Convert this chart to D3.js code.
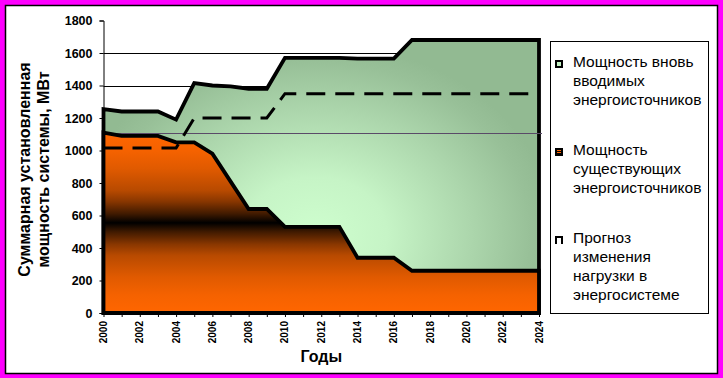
<!DOCTYPE html>
<html><head><meta charset="utf-8">
<script src="https://cdn.jsdelivr.net/npm/d3@7"></script>
<style>html,body{margin:0;padding:0;background:#ff00ff;}svg{display:block;}</style>
</head><body>
<script>
const years = d3.range(2000, 2025);
const existingPower = [1110,1090,1090,1090,1050,1050,980,810,640,640,530,530,530,530,340,340,340,260,260,260,260,260,260,260,260];
const totalPower   = [1255,1240,1240,1240,1190,1415,1400,1395,1380,1380,1570,1570,1570,1570,1565,1565,1565,1680,1680,1680,1680,1680,1680,1680,1680];
const loadForecast = [1015,1015,1015,1015,1015,1200,1200,1200,1200,1200,1350,1350,1350,1350,1350,1350,1350,1350,1350,1350,1350,1350,1350,1350,1350];
const yTicks = [0,200,400,600,800,1000,1200,1400,1600,1800];
const xLabelYears = d3.range(2000, 2025, 2);
const refLineValue = 1105;
const yTitle = ["Суммарная установленная", "мощность системы, МВт"];
const xTitle = "Годы";
const legendItems = [
  {key:"new", lines:["Мощность вновь","вводимых","энергоисточников"]},
  {key:"old", lines:["Мощность","существующих","энергоисточников"]},
  {key:"load", lines:["Прогноз","изменения","нагрузки в","энергосистеме"]}
];

const W = 723, H = 378;
const svg = d3.select("body").append("svg").attr("width", W).attr("height", H);
const FONT = "Arial, 'Liberation Sans', sans-serif";

// background & frame
svg.append("rect").attr("x",0).attr("y",0).attr("width",W).attr("height",H).attr("fill","#ff00ff");
svg.append("rect").attr("x",5.5).attr("y",5.5).attr("width",712).attr("height",368)
  .attr("fill","#ffffff").attr("stroke","#000").attr("stroke-width",1.5);

const x = d3.scaleLinear().domain([2000,2024]).range([103.5,539]);
const y = d3.scaleLinear().domain([0,1800]).range([313,20.5]);

const defs = svg.append("defs");
const gG = defs.append("radialGradient").attr("id","gGreen").attr("gradientUnits","userSpaceOnUse")
  .attr("cx",315).attr("cy",235).attr("r",240).attr("gradientTransform","translate(315,235) scale(1.0,0.8) translate(-315,-235)");
gG.append("stop").attr("offset",0).attr("stop-color","#cefece");
gG.append("stop").attr("offset",0.3).attr("stop-color","#c6f4c6");
gG.append("stop").attr("offset",0.65).attr("stop-color","#acd6ac");
gG.append("stop").attr("offset",0.9).attr("stop-color","#98c098");
gG.append("stop").attr("offset",1).attr("stop-color","#92ba92");

const gO = defs.append("linearGradient").attr("id","gOrange").attr("gradientUnits","userSpaceOnUse")
  .attr("x1",0).attr("x2",0).attr("y1",y(1110)).attr("y2",y(0));
[[0,"#ff6600"],[0.1,"#f56200"],[0.2,"#e05a00"],[0.32,"#b84a00"],[0.38,"#8a3700"],[0.45,"#401a00"],[0.5,"#000000"],
 [0.55,"#401a00"],[0.62,"#8a3700"],[0.68,"#b84a00"],[0.8,"#e05a00"],[0.9,"#f56200"],[1,"#ff6600"]]
 .forEach(s=>gO.append("stop").attr("offset",s[0]).attr("stop-color",s[1]));

// gridlines
svg.append("g").selectAll("line").data(yTicks.filter(v=>v>0 && v<1800)).join("line")
  .attr("x1",x(2000)).attr("x2",x(2024)).attr("y1",d=>Math.round(y(d))+0.5).attr("y2",d=>Math.round(y(d))+0.5)
  .attr("stroke","#000").attr("stroke-width",1);

// y axis
const yAxis = d3.axisLeft(y).tickValues(yTicks).tickSize(4).tickPadding(7).tickFormat(d3.format("d"));
const ya = svg.append("g").attr("transform",`translate(${x(2000)},0)`).call(yAxis);
ya.select(".domain").attr("stroke","#000").attr("stroke-width",1);
ya.selectAll(".tick line").attr("stroke","#000");
ya.selectAll("text").attr("font-family",FONT).attr("font-weight","bold").attr("font-size","12.5px").attr("fill","#000");

// x axis
const xAxis = d3.axisBottom(x).tickValues(years).tickSize(4).tickFormat("");
const xa = svg.append("g").attr("transform",`translate(0,${y(0)})`).call(xAxis);
xa.select(".domain").remove();
xa.selectAll(".tick line").attr("stroke","#000");
svg.append("g").selectAll("text").data(xLabelYears).join("text")
  .attr("transform",d=>`translate(${x(d)},${y(0)+8}) rotate(-90)`)
  .attr("text-anchor","end").attr("dy","0.35em")
  .attr("font-family",FONT).attr("font-weight","bold").attr("font-size","10px").text(d=>d);

// areas
const areaTotal = d3.area().x((d,i)=>x(years[i])).y0(y(0)).y1(d=>y(d));
svg.append("path").datum(totalPower).attr("d",areaTotal).attr("fill","url(#gGreen)")
  .attr("stroke","#000").attr("stroke-width",3.8).attr("stroke-linejoin","miter");

// reference line
svg.append("line").attr("x1",x(2000)).attr("x2",x(2024)+3).attr("y1",Math.round(y(refLineValue))+0.5).attr("y2",Math.round(y(refLineValue))+0.5)
  .attr("stroke","#5a4a68").attr("stroke-width",1);

svg.append("path").datum(existingPower).attr("d",areaTotal).attr("fill","url(#gOrange)")
  .attr("stroke","#000").attr("stroke-width",3.8).attr("stroke-linejoin","miter");

// load forecast dashed
const line = d3.line().x((d,i)=>x(years[i])).y(d=>y(d));
svg.append("path").datum(loadForecast).attr("d",line).attr("fill","none")
  .attr("stroke","#000").attr("stroke-width",3).attr("stroke-dasharray","19,10");

// axis titles
svg.append("text").attr("x",(x(2000)+x(2024))/2).attr("y",362).attr("text-anchor","middle")
  .attr("font-family",FONT).attr("font-weight","bold").attr("font-size","16px").text(xTitle);
const yt = svg.append("g");
yTitle.forEach((t,i)=>{
  yt.append("text").attr("transform",`translate(${30+i*19},169.5) rotate(-90)`).attr("text-anchor","middle")
    .attr("font-family",FONT).attr("font-weight","bold").attr("font-size","16px").text(t);
});

// legend
const lg = svg.append("g");
lg.append("rect").attr("x",550.5).attr("y",41.5).attr("width",158).attr("height",272).attr("fill","#fff").attr("stroke","#000").attr("stroke-width",1);
const itemY = [67,155,243];
legendItems.forEach((it,i)=>{
  const by = itemY[i];
  const g = lg.append("g");
  g.append("rect").attr("x",555).attr("y",by-7).attr("width",8).attr("height",8).attr("fill","#000");
  if(it.key==="new"){
    g.append("rect").attr("x",557).attr("y",by-5).attr("width",4).attr("height",4).attr("fill","#c4f2c4");
  } else if(it.key==="old"){
    g.append("rect").attr("x",557).attr("y",by-5).attr("width",4).attr("height",1).attr("fill","#ff6600");
    g.append("rect").attr("x",557).attr("y",by-3).attr("width",4).attr("height",1).attr("fill","#ff6600");
  } else {
    g.append("rect").attr("x",557).attr("y",by-5).attr("width",4).attr("height",6).attr("fill","#fff");
  }
  it.lines.forEach((t,j)=>{
    g.append("text").attr("x",573).attr("y",by+j*19).attr("font-family",FONT).attr("font-size","15.5px").attr("fill","#000").text(t);
  });
});
</script>
</body></html>
